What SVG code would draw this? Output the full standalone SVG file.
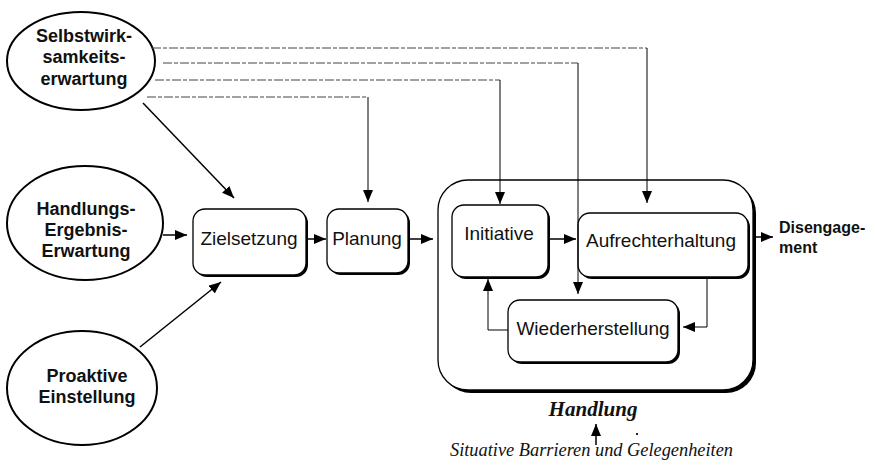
<svg xmlns="http://www.w3.org/2000/svg" width="875" height="465" viewBox="0 0 875 465">
<style>
.ell{fill:#fff;stroke:#000;stroke-width:2}
.box{fill:#fff;stroke:#000;stroke-width:1.3}
.sh{fill:#000}
.et{font-family:"Liberation Sans",Arial,sans-serif;font-size:18px;font-weight:bold;text-anchor:middle;fill:#111}
.bt{font-family:"Liberation Sans",Arial,sans-serif;font-size:19px;text-anchor:middle;fill:#111}
.dt{font-family:"Liberation Sans",Arial,sans-serif;font-size:16px;font-weight:bold;fill:#111}
.ln{fill:none;stroke:#000;stroke-width:1.5}
.th{fill:none;stroke:#000;stroke-width:1}
.ds{fill:none;stroke:#444;stroke-width:1;stroke-dasharray:9 2 4 2}
</style>
<defs>
<marker id="ah" viewBox="0 0 12 10" refX="12" refY="5" markerWidth="12" markerHeight="10" markerUnits="userSpaceOnUse" orient="auto">
<path d="M0,0 L12,5 L0,10 Z" fill="#000"/>
</marker>
</defs>
<rect width="875" height="465" fill="#fff"/>

<g id="handlung">
<rect x="441" y="183" width="315" height="210" rx="30" class="sh"/>
<rect x="438" y="180" width="315" height="210" rx="30" class="box" stroke-width="1.5"/>
<text x="593" y="416" font-family="'Liberation Serif','Times New Roman',serif" font-size="20" font-weight="bold" font-style="italic" text-anchor="middle" textLength="89" lengthAdjust="spacingAndGlyphs" fill="#111">Handlung</text>
</g>

<g id="selbstwirksamkeit">
<ellipse cx="81" cy="61" rx="74" ry="49" class="ell"/>
<text class="et" x="84" y="42">Selbstwirk-</text>
<text class="et" x="84" y="63">samkeits-</text>
<text class="et" x="84" y="85">erwartung</text>
</g>

<g id="ergebniserwartung">
<ellipse cx="85" cy="223" rx="78" ry="57" class="ell"/>
<text class="et" x="86" y="215">Handlungs-</text>
<text class="et" x="86" y="236">Ergebnis-</text>
<text class="et" x="86" y="257">Erwartung</text>
</g>

<g id="proaktiv">
<ellipse cx="82" cy="388" rx="75" ry="57" class="ell"/>
<text class="et" x="87" y="382">Proaktive</text>
<text class="et" x="87" y="403">Einstellung</text>
</g>

<g id="zielsetzung">
<rect x="195" y="211" width="113" height="66" rx="12" class="sh"/>
<rect x="193" y="209" width="113" height="66" rx="12" class="box"/>
<text class="bt" x="249" y="245">Zielsetzung</text>
</g>

<g id="planung">
<rect x="329" y="211" width="81" height="64" rx="12" class="sh"/>
<rect x="327" y="209" width="81" height="64" rx="12" class="box"/>
<text class="bt" x="367" y="245">Planung</text>
</g>

<g id="initiative">
<rect x="454" y="207" width="96" height="72" rx="12" class="sh"/>
<rect x="452" y="205" width="96" height="72" rx="12" class="box"/>
<text class="bt" x="499" y="240">Initiative</text>
</g>

<g id="aufrechterhaltung">
<rect x="580" y="215" width="170" height="64" rx="12" class="sh"/>
<rect x="578" y="213" width="170" height="64" rx="12" class="box"/>
<text class="bt" x="661" y="247">Aufrechterhaltung</text>
</g>

<g id="wiederherstellung">
<rect x="510" y="302" width="170" height="62" rx="12" class="sh"/>
<rect x="508" y="300" width="170" height="62" rx="12" class="box"/>
<text class="bt" x="593" y="335">Wiederherstellung</text>
</g>

<g id="disengagement">
<text class="dt" x="779" y="233">Disengage-</text>
<text class="dt" x="779" y="253">ment</text>
</g>

<g id="situativ">
<text x="591.5" y="456" font-family="'Liberation Serif','Times New Roman',serif" font-size="18" font-style="italic" text-anchor="middle" textLength="283" lengthAdjust="spacingAndGlyphs" fill="#111">Situative Barrieren und Gelegenheiten</text>
<rect x="636" y="433" width="2" height="2" fill="#222"/>
</g>

<g id="connectors">
<path class="ds" d="M152,48 H647"/>
<path class="th" d="M647,48 V203" marker-end="url(#ah)"/>
<path class="ds" d="M163,63 H578"/>
<path class="th" d="M578,63 V294" marker-end="url(#ah)"/>
<path class="ds" d="M155,80 H500"/>
<path class="th" d="M500,80 V204" marker-end="url(#ah)"/>
<path class="ds" d="M147,97 H368"/>
<path class="th" d="M368,97 V202" marker-end="url(#ah)"/>

<path class="ln" d="M143,103 L234,198" marker-end="url(#ah)"/>
<path class="ln" d="M140,347 L221,282" marker-end="url(#ah)"/>
<path class="ln" d="M163,235 H187" marker-end="url(#ah)"/>
<path class="ln" d="M308,239 H326" marker-end="url(#ah)"/>
<path class="ln" d="M410,239 H433" marker-end="url(#ah)"/>
<path class="ln" d="M550,239 H576" marker-end="url(#ah)"/>
<path class="th" d="M707,279 V327 H683" marker-end="url(#ah)"/>
<path class="th" d="M508,330 H488 V279" marker-end="url(#ah)"/>
<path class="ln" d="M756,237 H773" marker-end="url(#ah)"/>
<path class="ln" d="M596,445 V424" marker-end="url(#ah)"/>
</g>
</svg>
